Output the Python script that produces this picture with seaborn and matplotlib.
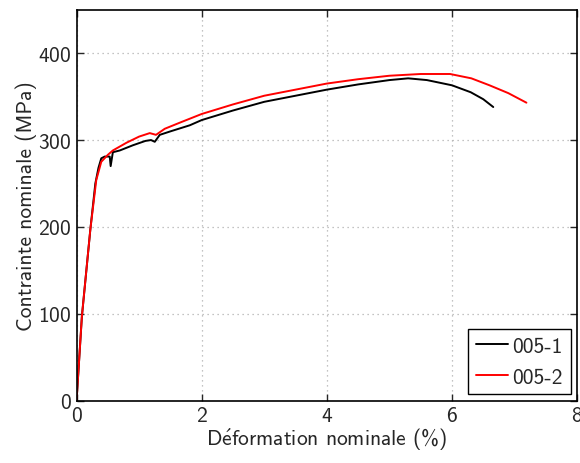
"""Courbes contrainte-deformation nominales, essais 005-1 et 005-2."""

import matplotlib
matplotlib.use("Agg")
import matplotlib.pyplot as plt
import pandas as pd
import seaborn as sns


# essai 005-1
strain_1 = [0, 0.085, 0.22, 0.30, 0.35, 0.395, 0.45, 0.53, 0.545, 0.58, 0.69,
            0.9, 1.1, 1.19, 1.25, 1.33, 1.5, 1.81, 2.0, 2.5, 3.0, 3.5, 4.0,
            4.5, 5.0, 5.3, 5.6, 5.8, 6.0, 6.3, 6.5, 6.66]
stress_1 = [0, 97, 197, 250, 268, 279, 281, 281, 270, 286, 288,
            294, 299, 300, 298, 306, 310, 317, 323, 334, 344, 351, 358,
            364, 369, 371, 369, 366, 363, 355, 347, 338]

# essai 005-2
strain_2 = [0, 0.085, 0.22, 0.315, 0.395, 0.5, 0.58, 0.8, 1.0, 1.17, 1.27,
            1.41, 1.65, 2.0, 2.5, 3.0, 3.5, 4.0, 4.5, 5.0, 5.5, 5.97, 6.31,
            6.6, 6.9, 7.19]
stress_2 = [0, 97, 197, 254, 275, 283, 288, 297, 304, 308, 306,
            313, 320, 330, 341, 351, 358, 365, 370, 374, 376, 376, 371,
            363, 354, 343]

SAMPLES = ["005-1", "005-2"]
COLORS = {"005-1": "black", "005-2": "red"}
FS = 15.5

df = pd.concat(
    [
        pd.DataFrame({"strain": strain_1, "stress": stress_1, "sample": SAMPLES[0]}),
        pd.DataFrame({"strain": strain_2, "stress": stress_2, "sample": SAMPLES[1]}),
    ],
    ignore_index=True,
)

sns.set_style("ticks")
plt.rcParams["font.family"] = ["cmss10", "DejaVu Sans"]
plt.rcParams["axes.formatter.use_mathtext"] = True
plt.rcParams["mathtext.fontset"] = "cm"

fig = plt.figure(figsize=(5.8, 4.64), dpi=100)
ax = fig.add_axes([0.132, 0.134, 0.863, 0.843])

sns.lineplot(data=df, x="strain", y="stress", hue="sample", palette=COLORS,
             hue_order=SAMPLES, sort=False, estimator=None, linewidth=1.4, ax=ax)

ax.set_xlim(0, 8)
ax.set_ylim(0, 450)
ax.set_xticks([0, 2, 4, 6, 8])
ax.set_yticks([0, 100, 200, 300, 400])
ax.grid(True, linestyle=(0, (1, 3)), color="#b0b0b0", linewidth=0.9)
ax.tick_params(direction="in", top=True, right=True, labelsize=FS, length=5, width=1)
for spine in ax.spines.values():
    spine.set_visible(True)
    spine.set_color("black")
    spine.set_linewidth(1.2)

ax.set_xlabel(r"D$\mathsf{\acute{e}}$formation nominale (%)", fontsize=FS, labelpad=0)
ax.set_ylabel("Contrainte nominale (MPa)", fontsize=FS, labelpad=1)

leg = ax.legend(loc="lower right", fontsize=FS, fancybox=False, framealpha=1,
                edgecolor="black", borderaxespad=0.3, handlelength=1.5,
                handletextpad=0.2, borderpad=0.35, labelspacing=0.55)
leg.set_title(None)
leg.get_frame().set_linewidth(1.0)

fig.savefig("out.png", dpi=100)
